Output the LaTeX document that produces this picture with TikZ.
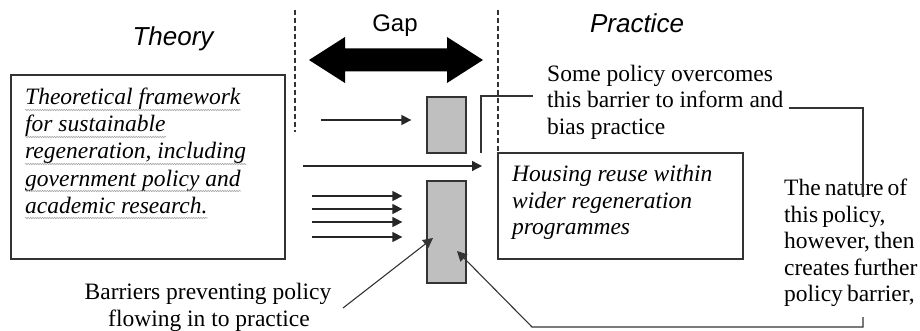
\documentclass[tikz,border=0pt]{standalone}
\usepackage{fontspec}
\setmainfont{Liberation Serif}
\newfontfamily\headfont{Liberation Sans}
\newfontfamily\tightserif[WordSpace=0.7]{Liberation Serif}
\usetikzlibrary{arrows.meta,decorations.pathmorphing}

\tikzset{
  ink/.style={draw=black!80, line width=1.3pt},
  panel/.style={ink, rectangle, inner sep=0pt},
  barrier/.style={draw=black!80, line width=1.3pt, fill=black!25, rectangle, inner sep=0pt, minimum width=39pt},
  flow/.style={black!85, line width=1.3pt, -{Triangle[length=10pt,width=10pt]}},
  leader/.style={black!80, line width=1.1pt},
  divider/.style={black!80, line width=1.3pt, dash pattern=on 5pt off 3pt},
  body/.style={font=\fontsize{23.5}{27}\selectfont, inner sep=0pt, anchor=base west, text=black},
  tight/.style={body, font=\tightserif\fontsize{23.5}{27}\selectfont},
  framework/.style={body, font=\fontsize{23.5}{27}\selectfont\itshape},
  heading/.style={font=\headfont\fontsize{26}{30}\selectfont\itshape, inner sep=0pt, anchor=base, text=black},
  squiggle/.style={draw=black!35, line width=0.6pt, decorate,
    decoration={snake, amplitude=0.7pt, segment length=2.4pt}},
}

\begin{document}
\begin{tikzpicture}[x=1pt, y=-1pt]
\useasboundingbox (0,0) rectangle (920,331);

% dashed borders of the gap
\coordinate (divLtop) at (295,10);
\coordinate (divLbot) at (295,132);
\coordinate (divRtop) at (498,10);
\coordinate (divRbot) at (498,185);
\draw[divider] (divLtop) -- (divLbot);
\draw[divider] (divRtop) -- (divRbot);

% headings
\node[heading] (theory) at (173,46) {Theory};
\node[heading] (practice) at (637,33) {Practice};
\node[heading, font=\headfont\fontsize{24}{28}\selectfont] (gap) at (395,32) {Gap};

% double-headed gap arrow
\fill[black] (309,60) -- (345,37) -- (345,48.5) -- (447,48.5) -- (447,37) -- (483,60)
  -- (447,83) -- (447,71.5) -- (345,71.5) -- (345,83) -- cycle;

% boxes
\node[panel, minimum width=274pt, minimum height=184pt] (theorybox) at (148,167) {};
\node[panel, minimum width=245pt, minimum height=106pt, fill=white] (practicebox) at (620.5,206) {};

% barriers
\node[barrier, minimum height=56pt] (barA) at (446.5,125) {};
\node[barrier, minimum height=102pt] (barB) at (446.5,232) {};

% theory text
\node[framework] (f1) at (25,105) {Theoretical framework};
\node[framework] (f2) at (25,132) {for sustainable};
\node[framework] (f3) at (25,159) {regeneration, including};
\node[framework] (f4) at (25,186) {government policy and};
\node[framework] (f5) at (25,213) {academic research.};
\foreach \l in {f1,f2,f3,f4,f5}
  \draw[squiggle] ([yshift=-5pt]\l.base west) -- ([yshift=-5pt]\l.base east);

% practice text
\node[framework] (h1) at (512,182) {Housing reuse within};
\node[framework] (h2) at (512,208) {wider regeneration};
\node[framework] (h3) at (512,234) {programmes};

% annotations
\node[body] (s1) at (547,82) {Some policy overcomes};
\node[body] (s2) at (547,108) {this barrier to inform and};
\node[body] (s3) at (547,135) {bias practice};

\node[tight] (n1) at (784,195) {The nature of};
\node[tight] (n2) at (784,222) {this policy,};
\node[tight] (n3) at (784,248) {however, then};
\node[tight] (n4) at (784,275) {creates further};
\node[tight] (n5) at (784,301) {policy barrier,};

\node[body, anchor=base] (b1) at (208,299) {Barriers preventing policy};
\node[body, anchor=base] (b2) at (209,326) {flowing in to practice};

% policy flows
\coordinate (a1s) at (321,120);
\draw[flow] (a1s) -- ([xshift=-15pt]barA.west |- a1s);
\coordinate (a2s) at (303,166);
\coordinate (a2e) at (482,166);
\draw[flow] (a2s) -- (a2e);
\foreach \yy/\nm in {196/p1,209/p2,222/p3,237/p4}{
  \coordinate (\nm) at (312,\yy);
  \draw[flow] (\nm) -- ([xshift=-24pt]barB.west |- \nm);
}

% leaders
\coordinate (ovTop) at (533,96);
\coordinate (ovCorner) at (481,96);
\coordinate (ovEnd) at (481,153);
\draw[leader] (ovTop) -- (ovCorner) -- (ovEnd);

\coordinate (natCorner) at (863,108);
\coordinate (natEnd) at (863,197);
\draw[leader] ([xshift=5pt]s2.base east) -- (natCorner) -- (natEnd);

\coordinate (brTop) at (863,317);
\coordinate (brCorner) at (863,327);
\coordinate (brLeft) at (532,327);
\coordinate (brTip) at (457,251);
\draw[leader, -{Triangle[length=10pt,width=10pt]}] (brTop) -- (brCorner) -- (brLeft) -- (brTip);

\coordinate (bStart) at (343,308);
\coordinate (bTip) at (433,238);
\draw[leader, -{Triangle[length=10pt,width=10pt]}] (bStart) -- (bTip);
\end{tikzpicture}
\end{document}
